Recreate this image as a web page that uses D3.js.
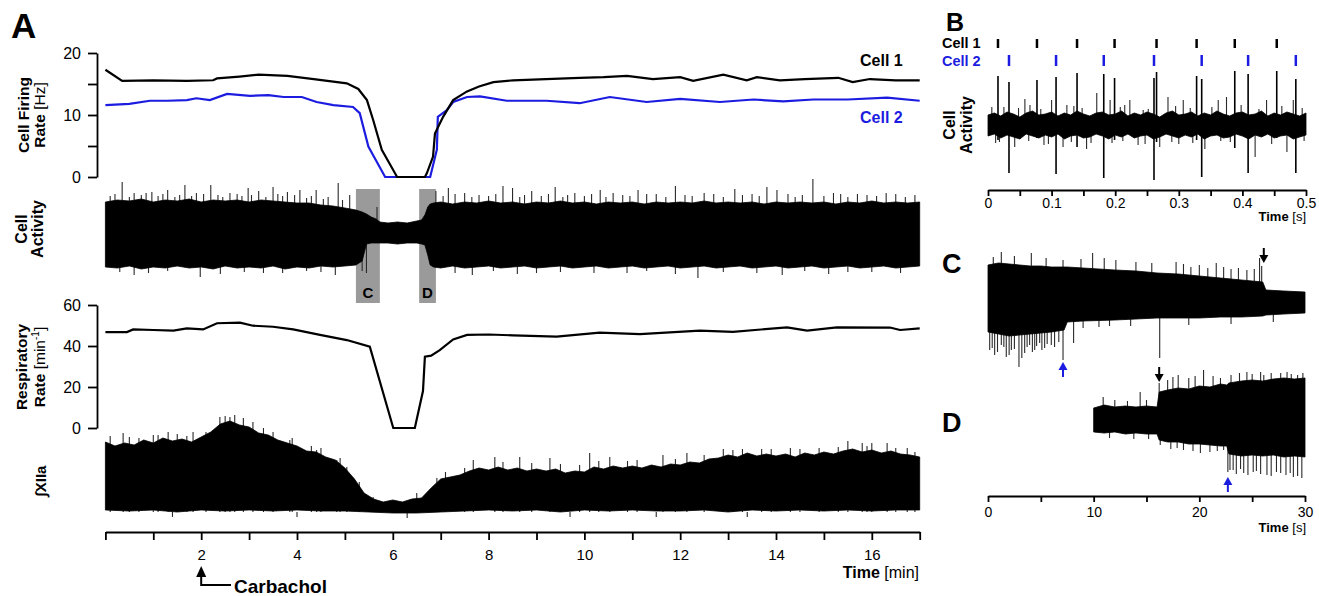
<!DOCTYPE html>
<html>
<head>
<meta charset="utf-8">
<script src="https://cdn.jsdelivr.net/npm/d3@7"></script>
<style>
  body { margin: 0; background: #fff; }
  svg { display: block; }
</style>
</head>
<body>
<script>
const FONT = "'Liberation Sans', Arial, Helvetica, sans-serif";
const BLUE = "#1c1ce0";

// ---------- Panel A: firing rates [Hz] over time [min]
const rate1Time = [0, 0.35, 1.0, 1.7, 2.25, 2.33, 2.8, 3.2, 3.8, 4.35, 5.04, 5.28, 5.46, 5.59, 5.77, 6.09, 6.67, 6.71, 6.84, 6.88, 7.05, 7.26, 7.55, 7.8, 8.1, 8.51, 9.2, 9.9, 10.4, 10.89, 11.43, 12.0, 12.27, 12.9, 13.39, 13.6, 14.08, 14.6, 15.3, 15.6, 15.96, 16.5, 17];
const rate1 = [17.3, 15.5, 15.6, 15.5, 15.6, 15.9, 16.2, 16.5, 16.3, 15.8, 15.1, 14.2, 12.4, 9.2, 4.4, 0, 0, 0.6, 3.3, 7.0, 9.7, 12.4, 13.8, 14.6, 15.3, 15.6, 15.8, 16.0, 16.1, 16.3, 15.8, 16.1, 15.5, 16.5, 15.6, 16.1, 15.6, 15.8, 16.0, 15.3, 15.8, 15.6, 15.6];
const rate2Time = [0, 0.5, 0.93, 1.3, 1.7, 1.9, 2.18, 2.54, 3.02, 3.4, 3.72, 4.1, 4.41, 4.76, 5.17, 5.31, 5.49, 5.59, 5.84, 6.78, 6.92, 6.94, 7.13, 7.26, 7.55, 7.82, 8.38, 9.21, 9.9, 10.53, 11.3, 12.0, 12.83, 13.53, 14.15, 14.78, 15.5, 16.32, 17];
const rate2 = [11.6, 11.8, 12.3, 12.3, 12.4, 12.7, 12.4, 13.4, 13.1, 13.2, 12.9, 12.9, 12.1, 11.6, 11.3, 10.3, 4.9, 3.5, 0, 0, 4.4, 9.7, 10.8, 12.1, 12.9, 13.0, 12.3, 12.3, 11.9, 12.9, 12.1, 12.6, 12.1, 12.5, 12.2, 12.5, 12.5, 12.8, 12.3];

// ---------- Panel A: cell activity envelope (a.u.)
const actTime = [0, 0.25, 0.5, 0.75, 1, 1.25, 1.5, 1.75, 2, 2.25, 2.5, 2.75, 3, 3.25, 3.5, 3.75, 4, 4.25, 4.5, 4.75, 5.0, 5.23, 5.36, 5.45, 5.55, 5.65, 5.73, 5.9, 6.1, 6.3, 6.5, 6.6, 6.67, 6.73, 6.78, 6.85, 7.0, 7.25, 7.5, 7.75, 8, 8.25, 8.5, 8.75, 9, 9.25, 9.5, 9.75, 10, 10.25, 10.5, 10.75, 11, 11.25, 11.5, 11.75, 12, 12.25, 12.5, 12.75, 13, 13.25, 13.5, 13.75, 14, 14.25, 14.5, 14.75, 15, 15.25, 15.5, 15.75, 16, 16.25, 16.5, 16.75, 17];
const actTop = [33, 35, 34, 36, 33, 35, 34, 36, 33, 35, 34, 35, 33, 35, 34, 33, 32, 32, 30, 29, 27, 25, 23, 21, 18, 16, 13, 12, 13, 12, 14, 15, 20, 28, 31, 32, 33, 31, 33, 32, 34, 32, 33, 31, 33, 32, 34, 32, 33, 31, 33, 32, 33, 31, 33, 32, 33, 32, 34, 32, 33, 32, 33, 31, 33, 32, 33, 32, 33, 31, 33, 32, 34, 32, 33, 32, 33];
const actBottom = [-32, -33, -31, -34, -32, -33, -31, -33, -32, -34, -31, -33, -32, -33, -31, -34, -32, -33, -31, -32, -31, -30, -26, -9, -8, -8, -8, -8, -9, -8, -8, -9, -10, -20, -30, -32, -33, -31, -33, -32, -31, -33, -32, -31, -33, -32, -31, -33, -32, -31, -33, -32, -31, -33, -32, -31, -33, -32, -31, -33, -32, -31, -33, -32, -31, -33, -32, -31, -33, -32, -31, -33, -32, -31, -33, -32, -31];
const actSpikeTime = [0.35, 0.6, 0.97, 1.3, 1.66, 1.9, 2.2, 2.6, 2.98, 3.2, 3.5, 3.8, 4.06, 4.4, 4.86, 5.1, 5.67, 6.9, 7.16, 7.5, 8.3, 8.5, 8.9, 9.39, 9.8, 10.33, 10.6, 11.12, 11.5, 11.9, 12.5, 13.14, 13.5, 13.81, 14.02, 14.77, 15.2, 15.7, 16.3, 16.9,
  0.1, 0.2, 0.5, 0.75, 0.85, 1.1, 1.2, 1.45, 1.55, 1.8, 2.05, 2.35, 2.45, 2.75, 2.85, 3.05, 3.35, 3.6, 3.7, 3.95, 4.2, 4.3, 4.55, 4.65, 4.95, 7.05, 7.3, 7.65, 7.8, 8.0, 8.15, 8.65, 8.75, 9.1, 9.25, 9.55, 9.65, 10.0, 10.15, 10.45, 10.8, 10.95, 11.3, 11.7, 12.1, 12.25, 12.7, 12.9, 13.3, 13.65, 14.25, 14.4, 14.55, 15.0, 15.35, 15.5, 15.9, 16.1, 16.5, 16.7,
  0.6, 1.98, 3.7, 4.8, 5.36, 5.45, 7.66, 9.0, 10.89, 12.37, 14.13, 15.5,
  0.3, 0.9, 1.3, 2.4, 2.9, 3.3, 4.2, 4.5, 7.3, 8.1, 8.6, 9.5, 10.2, 11.3, 11.9, 12.9, 13.6, 14.6, 15.1, 16.0, 16.6];
const actSpikeAmp = [53, 42, 43, 45, 50, 42, 50, 42, 47, 44, 48, 43, 45, 45, 52, 40, 28, 44, 47, 42, 49, 47, 44, 48, 42, 45, 42, 45, 41, 49, 42, 46, 41, 48, 45, 56, 42, 41, 42, 40,
  39, 41, 38, 40, 42, 39, 41, 38, 40, 39, 41, 40, 38, 41, 39, 40, 38, 41, 39, 40, 37, 39, 36, 38, 35, 39, 41, 38, 40, 39, 41, 38, 40, 39, 41, 38, 40, 39, 41, 38, 40, 39, 41, 38, 40, 39, 41, 38, 40, 39, 41, 38, 40, 39, 41, 38, 40, 39, 41, 38,
  -40, -42, -38, -40, -36, -38, -40, -38, -38, -43, -40, -37,
  -37, -38, -36, -39, -37, -38, -36, -37, -38, -36, -39, -37, -38, -36, -39, -37, -38, -36, -39, -37, -38];

// analysis windows shown in panels C and D [min]
const windowLabel = ["C", "D"];
const windowStart = [5.23, 6.55];
const windowEnd = [5.73, 6.90];

// ---------- Panel A: respiratory rate [1/min]
const respTime = [0, 0.45, 0.58, 1.0, 1.42, 1.7, 2.04, 2.33, 2.81, 3.08, 3.5, 3.92, 4.48, 5.04, 5.52, 6.01, 6.46, 6.63, 6.67, 6.8, 6.98, 7.26, 7.55, 8.0, 8.51, 9.42, 10.32, 11.16, 12.41, 13.1, 14.23, 14.65, 15.27, 16.38, 16.59, 17];
const resp = [46.8, 46.8, 48.1, 47.8, 47.5, 48.6, 48.1, 51.1, 51.4, 49.9, 49.4, 48.1, 45.4, 42.9, 39.7, 0, 0, 18, 34.8, 35.3, 38, 43.2, 45.4, 45.6, 45.2, 44.6, 46.5, 45.8, 47.5, 46.9, 49.1, 47.5, 49.1, 49.0, 47.8, 48.6];

// ---------- Panel A: integrated XIIa envelope (a.u.)
const xiiTopTime = [0, 0.2, 0.4, 0.6, 0.8, 1.0, 1.2, 1.4, 1.6, 1.8,
  2.0, 2.2, 2.4, 2.6, 2.8, 3.0, 3.2, 3.4, 3.6, 3.8,
  4.0, 4.2, 4.4, 4.6, 4.8, 5.0, 5.2, 5.4, 5.6, 5.8,
  6.0, 6.2, 6.4, 6.6, 6.8, 7.0, 7.2, 7.4, 7.6, 7.8,
  8.0, 8.2, 8.4, 8.6, 8.8, 9.0, 9.2, 9.4, 9.6, 9.8,
  10.0, 10.2, 10.4, 10.6, 10.8, 11.0, 11.2, 11.4, 11.6, 11.8,
  12.0, 12.2, 12.4, 12.6, 12.8, 13.0, 13.2, 13.4, 13.6, 13.8,
  14.0, 14.2, 14.4, 14.6, 14.8, 15.0, 15.2, 15.4, 15.6, 15.8,
  16.0, 16.2, 16.4, 16.6, 16.8, 17.0];
const xiiTop = [70, 66, 69, 67, 72, 69, 74, 71, 73, 70,
  75, 80, 88, 91, 87, 85, 79, 77, 72, 69,
  66, 61, 60, 55, 52, 44, 33, 19, 13, 10,
  12, 10, 13, 14, 24, 33, 35, 37, 41, 44,
  42, 45, 42, 44, 41, 43, 41, 43, 39, 41,
  40, 45, 43, 46, 44, 46, 44, 47, 45, 48,
  47, 50, 49, 53, 54, 57, 55, 59, 56, 58,
  56, 58, 55, 59, 57, 60, 58, 61, 63, 60,
  62, 59, 61, 58, 57, 55];
const xiiBottomTime = [0, 0.5, 1, 1.5, 2, 2.5, 3, 3.5, 4, 4.5, 5, 5.5, 6, 6.5, 7, 7.5, 8, 8.5, 9, 9.5, 10, 10.5, 11, 11.5, 12, 12.5, 13, 13.5, 14, 14.5, 15, 15.5, 16, 16.5, 17];
const xiiBottom = [2, 1, 2, 0, 2, 1, 2, 1, 2, 1, 1, 0, -1, -1, 0, 1, 2, 1, 2, 0, 2, 1, 2, 1, 1, 2, 0, 2, 1, 2, 1, 2, 1, 2, 2];
const xiiSpikeTime = [0.37, 1.0, 1.31, 1.83, 2.39, 2.6, 2.88, 3.08, 3.85, 4.41, 4.83, 5.04, 5.59, 6.84, 6.92, 7.68, 8.13, 8.65, 9.28, 10.11, 10.53, 11.64, 12.14, 12.9, 13.3, 14.3, 15.5, 15.8, 16.0, 16.32, 16.74,
  0.1, 0.5, 0.7, 1.1, 1.5, 1.7, 2.1, 2.5, 2.7, 3.3, 3.5, 3.9, 4.3, 4.5, 4.9, 5.3, 6.5, 7.1, 7.5, 8.3, 8.9, 9.5, 9.9, 10.3, 10.9, 11.1, 11.9, 12.5, 13.1, 13.7, 13.9, 14.5, 14.9, 15.3, 15.9, 16.5, 16.9,
  1.4, 4.0, 6.3, 9.7, 11.5, 13.4];
const xiiSpikeAmp = [79, 77, 80, 80, 95, 95, 94, 90, 72, 62, 52, 45, 15, 24, 34, 52, 55, 55, 54, 59, 55, 57, 59, 63, 63, 64, 71, 69, 69, 69, 64,
  76, 75, 74, 77, 78, 76, 80, 96, 97, 84, 80, 74, 66, 64, 54, 30, 19, 40, 44, 50, 49, 48, 47, 51, 51, 52, 53, 57, 62, 63, 63, 63, 64, 65, 66, 64, 60,
  -5, -5, -6, -5, -5, -5];

const minTicks = [0, 1, 2, 3, 4, 5, 6, 7, 8, 9, 10, 11, 12, 13, 14, 15, 16, 17];
const minTickLabels = ["", "", "2", "", "4", "", "6", "", "8", "", "10", "", "12", "", "14", "", "16", ""];
const rateTicks = [0, 5, 10, 15, 20];
const rateTickLabels = ["0", "", "10", "", "20"];
const respTicks = [0, 20, 40, 60];

// ---------- Panel B: spike raster and raw trace, time [s]
const cell1Times = [0.0157, 0.077, 0.140, 0.199, 0.265, 0.328, 0.388, 0.454];
const cell1Up = [49, 45, 52, 47, 53, 49, 54, 54];
const cell1Down = [-15, -13, -22, -15, -17, -15, -23, -13];
const cell2Times = [0.033, 0.107, 0.182, 0.261, 0.336, 0.409, 0.484];
const cell2Up = [43, 48, 51, 47, 46, 51, 46];
const cell2Down = [-48, -49, -53, -55, -52, -48, -48];
const noiseTime = [0, 0.01, 0.02, 0.03, 0.04, 0.05, 0.06, 0.07, 0.08, 0.09,
  0.1, 0.11, 0.12, 0.13, 0.14, 0.15, 0.16, 0.17, 0.18, 0.19,
  0.2, 0.21, 0.22, 0.23, 0.24, 0.25, 0.26, 0.27, 0.28, 0.29,
  0.3, 0.31, 0.32, 0.33, 0.34, 0.35, 0.36, 0.37, 0.38, 0.39,
  0.4, 0.41, 0.42, 0.43, 0.44, 0.45, 0.46, 0.47, 0.48, 0.49, 0.5];
const noiseTop = [10, 12, 9, 13, 11, 8, 12, 14, 10, 11, 13, 9, 12, 10, 14, 11, 9, 12, 13, 10, 11, 14, 9, 12, 10, 13, 11, 8, 12, 14, 10, 11, 13, 9, 12, 10, 14, 11, 9, 12, 13, 10, 11, 14, 9, 12, 10, 13, 11, 9, 12];
const noiseBottom = [-11, -9, -13, -10, -12, -14, -9, -11, -13, -10, -12, -9, -14, -11, -10, -13, -12, -9, -11, -14, -10, -12, -9, -13, -11, -10, -14, -12, -9, -11, -13, -10, -12, -9, -14, -11, -10, -13, -12, -9, -11, -14, -10, -12, -9, -13, -11, -10, -14, -12, -10];
const noiseSpikeTime = [0.058, 0.100, 0.171, 0.192, 0.223, 0.244, 0.283, 0.307, 0.362, 0.375, 0.438, 0.480, 0.006, 0.124,
  0.042, 0.118, 0.155, 0.195, 0.236, 0.270, 0.341, 0.420, 0.470, 0.012, 0.088, 0.300,
  0.025, 0.048, 0.066, 0.083, 0.135, 0.148, 0.208, 0.215, 0.252, 0.295, 0.318, 0.352, 0.398, 0.426, 0.462, 0.494,
  0.018, 0.064, 0.095, 0.131, 0.162, 0.212, 0.247, 0.289, 0.322, 0.366, 0.381, 0.446, 0.497];
const noiseSpikeAmp = [26, 25, 32, 25, 25, 15, 28, 25, 25, 28, 25, 25, 18, 20,
  -22, -22, -24, -18, -20, -22, -24, -32, -27, -18, -20, -19,
  18, 17, 20, 16, 19, 17, 18, 20, 16, 19, 17, 18, 20, 16, 19, 17,
  -17, -16, -19, -17, -18, -16, -19, -17, -18, -16, -17, -19, -16];
const bTicks = [0, 0.05, 0.1, 0.15, 0.2, 0.25, 0.3, 0.35, 0.4, 0.45, 0.5];
const bTickLabels = ["0", "", "0.1", "", "0.2", "", "0.3", "", "0.4", "", "0.5"];

// ---------- Panels C and D: expanded traces, time [s]
const cTime = [0, 1, 2, 3, 4, 5, 6, 7.2, 7.5, 9, 12, 14, 16, 18, 20, 22, 24, 26, 26.3, 28, 30];
const cTop = [35, 37, 36, 35, 34, 34, 33, 33, 33, 32, 30, 29, 27, 26, 24, 22, 20, 18, 10, 9, 8];
const cBottom = [-32, -34, -36, -35, -34, -33, -32, -30, -22, -21, -20, -19, -18, -18, -18, -17, -17, -16, -15, -14, -13];
const cSpikeTime = [0.16, 0.63, 1.26, 1.73, 2.21, 2.93, 3.47, 3.94, 4.42, 4.89, 5.36, 5.99, 7.1, 8.1, 16.25,
  0.4, 0.9, 1.5, 2.0, 2.5, 3.2, 3.7, 4.2, 4.6, 5.1, 5.6, 6.3, 6.7, 9.0, 10.5, 11.5, 13.5, 19, 23, 27,
  1.26, 4.1, 7.1, 9.9, 12.1, 17.8, 21.6, 25.7,
  0.5, 2.5, 5.5, 8.8, 11, 14, 15.5, 18.5, 19.2, 20.0, 20.8, 22.3, 23.0, 23.7, 24.5, 25.2, 25.9];
const cSpikeAmp = [-50, -55, -45, -57, -50, -67, -53, -45, -50, -43, -48, -45, -60, -43, -58,
  -48, -52, -47, -55, -49, -58, -47, -52, -46, -50, -44, -47, -42, -28, -27, -26, -26, -25, -24, -22,
  48, 47, 40, 47, 40, 38, 37, 42,
  43, 44, 42, 41, 42, 38, 37, 36, 33, 35, 32, 33, 31, 32, 30, 31, 34];
const dTime = [10, 11, 12, 13, 14, 15, 16, 16.2, 17, 18, 19, 20, 21, 22, 22.6, 22.8, 24, 25, 26, 27, 28, 29, 30];
const dTop = [12, 15, 13, 14, 13, 14, 13, 28, 30, 32, 31, 34, 33, 36, 35, 37, 39, 40, 39, 41, 42, 41, 42];
const dBottom = [-12, -13, -12, -14, -13, -14, -14, -20, -22, -22, -24, -24, -25, -26, -26, -34, -36, -35, -36, -35, -37, -36, -37];
const dSpikeTime = [10.9, 14.4, 16.2, 20.4, 22.0, 24.5, 26.1, 27.7, 29.3,
  12.0, 13.2, 15.0, 17.0, 17.5, 18.0, 19.0, 19.6, 21.3, 23.0, 23.8, 25.0, 25.8, 26.8, 28.3, 28.7, 29.8,
  16.3, 17.9, 20.1, 22.3, 22.7, 23.2, 24.2, 25.1, 26.4, 27.7, 28.9, 29.7,
  11.5, 13.8, 15.2, 17.3, 18.5, 19.4, 21.0, 21.7, 22.9, 23.5, 23.9, 24.6, 25.4, 25.8, 26.8, 27.3, 28.2, 28.6, 29.3];
const dSpikeAmp = [23, 28, 37, 50, 42, 48, 45, 47, 45,
  20, 19, 20, 40, 43, 45, 42, 44, 44, 45, 47, 46, 48, 47, 48, 46, 47,
  -25, -28, -33, -30, -52, -50, -53, -52, -55, -53, -57, -58,
  -18, -19, -19, -29, -30, -31, -32, -31, -50, -54, -49, -55, -51, -54, -56, -52, -55, -53, -56];
const dTicks = [0, 5, 10, 15, 20, 25, 30];
const dTickLabels = ["0", "", "10", "", "20", "", "30"];

// arrows: time [s], tip amplitude, direction, colour
const cArrows = [{t: 26.1, v: 37, dir: "down", color: "#000"}, {t: 7.1, v: -62, dir: "up", color: BLUE}];
const dArrows = [{t: 16.2, v: 38, dir: "down", color: "#000"}, {t: 22.7, v: -57, dir: "up", color: BLUE}];

// ================= drawing =================
const svg = d3.select("body").append("svg")
    .attr("width", 1319)
    .attr("height", 596)
    .attr("font-family", FONT);

const xMin = d3.scaleLinear().domain([0, 17]).range([105.4, 919.7]);
const yRate = d3.scaleLinear().domain([0, 20]).range([177, 53]);
const yAct = d3.scaleLinear().domain([-100, 100]).range([335, 135]);
const yResp = d3.scaleLinear().domain([0, 60]).range([428, 305]);
const yXii = d3.scaleLinear().domain([0, 100]).range([512, 412]);

const xB = d3.scaleLinear().domain([0, 0.5]).range([988, 1306]);
const yB = d3.scaleLinear().domain([-100, 100]).range([225, 25]);
const xCD = d3.scaleLinear().domain([0, 30]).range([988, 1305]);
const yC = d3.scaleLinear().domain([-100, 100]).range([400, 200]);
const yD = d3.scaleLinear().domain([-100, 100]).range([520, 320]);

function styleAxis(g, size) {
    g.attr("font-family", FONT).attr("font-size", size);
    g.select(".domain").attr("stroke-width", 1.8);
    g.selectAll(".tick line").attr("stroke-width", 1.8);
    g.selectAll(".tick text").attr("fill", "#000");
}

// dense trace = single spikes underneath + filled envelope (top edge, then bottom edge back)
function trace(x, y, topT, top, botT, bottom, spikeT, spikeA) {
    svg.append("g").selectAll("line")
        .data(spikeT.map((t, i) => ({t: t, a: spikeA[i]})))
        .join("line")
        .attr("x1", d => x(d.t)).attr("x2", d => x(d.t))
        .attr("y1", y(0)).attr("y2", d => y(d.a))
        .attr("stroke", "#2a2a2a")
        .attr("stroke-width", 1.1);
    const pts = topT.map((t, i) => [x(t), y(top[i])])
        .concat(botT.map((t, i) => [x(t), y(bottom[i])]).reverse());
    svg.append("path")
        .attr("d", d3.line()(pts) + "Z")
        .attr("fill", "#000")
        .attr("stroke", "#000")
        .attr("stroke-width", 0.8);
}

// rotated axis title, each line is a list of [text, weight]
function vLabel(cx, cy, lines, size) {
    lines.forEach((parts, k) => {
        const t = svg.append("text")
            .attr("transform", `translate(${cx[k]},${cy}) rotate(-90)`)
            .attr("text-anchor", "middle")
            .attr("font-size", size);
        parts.forEach(p => t.append("tspan").attr("font-weight", p[1]).text(p[0]));
    });
}

// panel letters
svg.append("text").attr("x", 11).attr("y", 38).attr("font-size", 35).attr("font-weight", "bold").text("A");
svg.append("text").attr("x", 946).attr("y", 31).attr("font-size", 25).attr("font-weight", "bold").text("B");
svg.append("text").attr("x", 942).attr("y", 273).attr("font-size", 27).attr("font-weight", "bold").text("C");
svg.append("text").attr("x", 942).attr("y", 432).attr("font-size", 27).attr("font-weight", "bold").text("D");

// ----- firing rate
svg.append("g")
    .attr("transform", "translate(97,0)")
    .call(d3.axisLeft(yRate).tickValues(rateTicks).tickFormat((d, i) => rateTickLabels[i]).tickSize(9).tickSizeOuter(0).tickPadding(7))
    .call(g => styleAxis(g, 16));

const rateLine = d3.line().x(d => xMin(d[0])).y(d => yRate(d[1]));
svg.append("path")
    .datum(rate2Time.map((t, i) => [t, rate2[i]]))
    .attr("d", rateLine).attr("fill", "none").attr("stroke", BLUE).attr("stroke-width", 2.2);
svg.append("path")
    .datum(rate1Time.map((t, i) => [t, rate1[i]]))
    .attr("d", rateLine).attr("fill", "none").attr("stroke", "#000").attr("stroke-width", 2.2);

svg.append("text").attr("x", 860).attr("y", 66).attr("font-size", 16).attr("font-weight", "bold").text("Cell 1");
svg.append("text").attr("x", 860).attr("y", 123).attr("font-size", 16).attr("font-weight", "bold").attr("fill", BLUE).text("Cell 2");

vLabel([29, 45], 115, [[["Cell Firing", "bold"]], [["Rate ", "bold"], ["[Hz]", "normal"]]], 15.5);

// ----- cell activity with C / D windows
windowLabel.forEach((lab, i) => {
    svg.append("rect")
        .attr("x", xMin(windowStart[i])).attr("width", xMin(windowEnd[i]) - xMin(windowStart[i]))
        .attr("y", 189).attr("height", 114)
        .attr("fill", "#9a9a9a");
    svg.append("text")
        .attr("x", (xMin(windowStart[i]) + xMin(windowEnd[i])) / 2).attr("y", 298)
        .attr("text-anchor", "middle").attr("font-size", 15).attr("font-weight", "bold")
        .text(lab);
});
trace(xMin, yAct, actTime, actTop, actTime, actBottom, actSpikeTime, actSpikeAmp);
vLabel([27, 43], 229, [[["Cell", "bold"]], [["Activity", "bold"]]], 16);

// ----- respiratory rate
svg.append("g")
    .attr("transform", "translate(97,0)")
    .call(d3.axisLeft(yResp).tickValues(respTicks).tickSize(9).tickSizeOuter(0).tickPadding(7))
    .call(g => styleAxis(g, 16));
svg.append("path")
    .datum(respTime.map((t, i) => [t, resp[i]]))
    .attr("d", d3.line().x(d => xMin(d[0])).y(d => yResp(d[1])))
    .attr("fill", "none").attr("stroke", "#000").attr("stroke-width", 2.2);

svg.append("text")
    .attr("transform", "translate(27,367) rotate(-90)")
    .attr("text-anchor", "middle").attr("font-size", 15.5).attr("font-weight", "bold")
    .text("Respiratory");
const respLab2 = svg.append("text")
    .attr("transform", "translate(45,367) rotate(-90)")
    .attr("text-anchor", "middle").attr("font-size", 15.5);
respLab2.append("tspan").attr("font-weight", "bold").text("Rate ");
respLab2.append("tspan").text("[min");
respLab2.append("tspan").attr("font-size", 10).attr("dy", -6).text("-1");
respLab2.append("tspan").attr("dy", 6).text("]");

// ----- integrated XIIa
trace(xMin, yXii, xiiTopTime, xiiTop, xiiBottomTime, xiiBottom, xiiSpikeTime, xiiSpikeAmp);
vLabel([46], 481, [[["\u222BXIIa", "bold"]]], 15);

// ----- time axis [min]
svg.append("g")
    .attr("transform", "translate(0,532)")
    .call(d3.axisBottom(xMin).tickValues(minTicks).tickFormat((d, i) => minTickLabels[i]).tickSize(8).tickSizeOuter(0).tickPadding(9))
    .call(g => styleAxis(g, 15));
const tMin = svg.append("text").attr("x", 919).attr("y", 578).attr("text-anchor", "end").attr("font-size", 16);
tMin.append("tspan").attr("font-weight", "bold").text("Time");
tMin.append("tspan").text(" [min]");

// Carbachol marker
const cx2 = xMin(2);
svg.append("path")
    .attr("d", `M${cx2},575 V585 H231`)
    .attr("fill", "none").attr("stroke", "#000").attr("stroke-width", 2);
svg.append("path")
    .attr("d", `M${cx2},566 L${cx2 - 5},577 L${cx2 + 5},577 Z`)
    .attr("fill", "#000");
svg.append("text").attr("x", 234).attr("y", 593).attr("font-size", 19).attr("font-weight", "bold").text("Carbachol");

// ================= Panel B =================
svg.append("text").attr("x", 942).attr("y", 48).attr("font-size", 14.5).attr("font-weight", "bold").text("Cell 1");
svg.append("text").attr("x", 942).attr("y", 66).attr("font-size", 14.5).attr("font-weight", "bold").attr("fill", BLUE).text("Cell 2");

svg.append("g").selectAll("line").data(cell1Times).join("line")
    .attr("x1", d => xB(d)).attr("x2", d => xB(d)).attr("y1", 39).attr("y2", 48)
    .attr("stroke", "#000").attr("stroke-width", 2.5);
svg.append("g").selectAll("line").data(cell2Times).join("line")
    .attr("x1", d => xB(d)).attr("x2", d => xB(d)).attr("y1", 55).attr("y2", 66)
    .attr("stroke", BLUE).attr("stroke-width", 2.5);

trace(xB, yB, noiseTime, noiseTop, noiseTime, noiseBottom, noiseSpikeTime, noiseSpikeAmp);
svg.append("g").selectAll("line").data(cell1Times).join("line")
    .attr("x1", d => xB(d)).attr("x2", d => xB(d))
    .attr("y1", (d, i) => yB(cell1Down[i])).attr("y2", (d, i) => yB(cell1Up[i]))
    .attr("stroke", "#000").attr("stroke-width", 1.6);
svg.append("g").selectAll("line").data(cell2Times).join("line")
    .attr("x1", d => xB(d)).attr("x2", d => xB(d))
    .attr("y1", (d, i) => yB(cell2Down[i])).attr("y2", (d, i) => yB(cell2Up[i]))
    .attr("stroke", "#000").attr("stroke-width", 1.6);

vLabel([955, 972], 125, [[["Cell", "bold"]], [["Activity", "bold"]]], 16);

svg.append("g")
    .attr("transform", "translate(0,190)")
    .call(d3.axisBottom(xB).tickValues(bTicks).tickFormat((d, i) => bTickLabels[i]).tickSize(6).tickSizeOuter(0).tickPadding(2))
    .call(g => styleAxis(g, 14));
const tB = svg.append("text").attr("x", 1306).attr("y", 221).attr("text-anchor", "end").attr("font-size", 13);
tB.append("tspan").attr("font-weight", "bold").text("Time");
tB.append("tspan").text(" [s]");

// ================= Panels C and D =================
trace(xCD, yC, cTime, cTop, cTime, cBottom, cSpikeTime, cSpikeAmp);
trace(xCD, yD, dTime, dTop, dTime, dBottom, dSpikeTime, dSpikeAmp);

function drawArrows(list, y) {
    list.forEach(a => {
        const x = xCD(a.t), tip = y(a.v);
        const s = a.dir === "down" ? -1 : 1;
        svg.append("line")
            .attr("x1", x).attr("x2", x).attr("y1", tip + s * 6).attr("y2", tip + s * 15)
            .attr("stroke", a.color).attr("stroke-width", 2);
        svg.append("path")
            .attr("d", `M${x},${tip} L${x - 4.5},${tip + s * 8} L${x + 4.5},${tip + s * 8} Z`)
            .attr("fill", a.color);
    });
}
drawArrows(cArrows, yC);
drawArrows(dArrows, yD);

svg.append("g")
    .attr("transform", "translate(0,496)")
    .call(d3.axisBottom(xCD).tickValues(dTicks).tickFormat((d, i) => dTickLabels[i]).tickSize(6).tickSizeOuter(0).tickPadding(5))
    .call(g => styleAxis(g, 14));
const tD = svg.append("text").attr("x", 1306).attr("y", 532).attr("text-anchor", "end").attr("font-size", 13);
tD.append("tspan").attr("font-weight", "bold").text("Time");
tD.append("tspan").text(" [s]");
</script>
</body>
</html>
